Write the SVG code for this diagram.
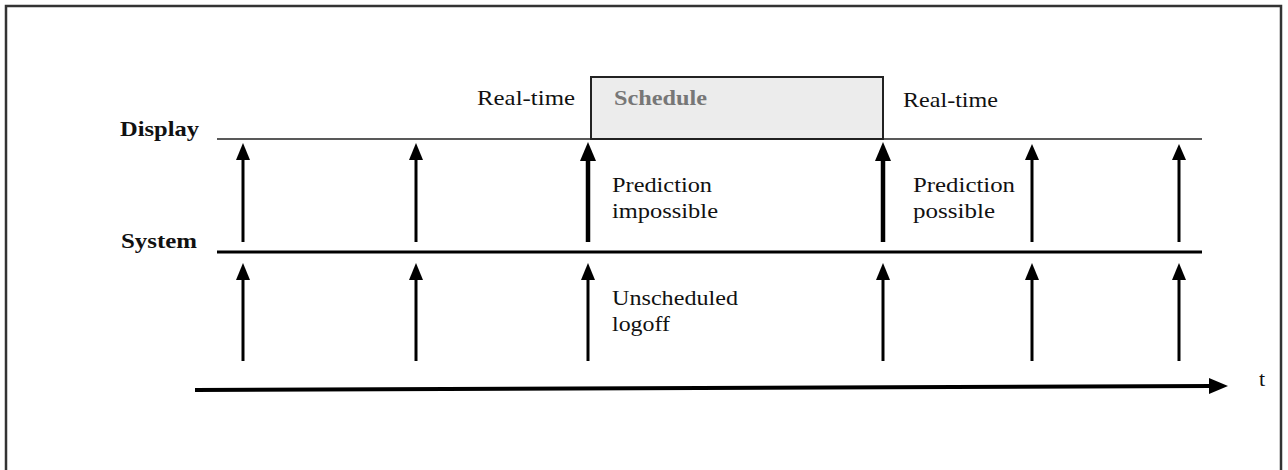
<svg xmlns="http://www.w3.org/2000/svg" width="1288" height="470" viewBox="0 0 1288 470">
<style>
  .bold{font-weight:bold}
  .arr{stroke:#000;stroke-width:3;fill:none}
  .arrT{stroke:#000;stroke-width:4.5;fill:none}
  .head{fill:#000}
</style>
<rect width="1288" height="470" fill="#fff"/>
<g id="frame" stroke="#333" stroke-width="2.5" fill="none">
  <polyline points="6,470 6,6 1281,6 1281,470"/>
</g>
<g font-family="Liberation Serif, DejaVu Serif, serif" font-size="22" fill="#111">
<g id="schedule-box">
  <rect x="591" y="77" width="292" height="62" fill="#ececec" stroke="#222" stroke-width="2"/>
  <text class="bold" x="614" y="105" fill="#777" textLength="93" lengthAdjust="spacingAndGlyphs">Schedule</text>
</g>
<g id="labels">
  <text x="477" y="105" textLength="98" lengthAdjust="spacingAndGlyphs">Real-time</text>
  <text x="903" y="107" textLength="95" lengthAdjust="spacingAndGlyphs">Real-time</text>
  <text class="bold" x="120" y="136" textLength="79" lengthAdjust="spacingAndGlyphs">Display</text>
  <text class="bold" x="121" y="248" textLength="76" lengthAdjust="spacingAndGlyphs">System</text>
  <text x="612" y="192" textLength="100" lengthAdjust="spacingAndGlyphs">Prediction</text>
  <text x="612" y="218" textLength="106" lengthAdjust="spacingAndGlyphs">impossible</text>
  <text x="913" y="192" textLength="102" lengthAdjust="spacingAndGlyphs">Prediction</text>
  <text x="913" y="218" textLength="82" lengthAdjust="spacingAndGlyphs">possible</text>
  <text x="612" y="305" textLength="126" lengthAdjust="spacingAndGlyphs">Unscheduled</text>
  <text x="612" y="331" textLength="58" lengthAdjust="spacingAndGlyphs">logoff</text>
  <text x="1259" y="386">t</text>
</g>
</g>
<g id="lanes">
  <line x1="217" y1="139" x2="1202" y2="139" stroke="#222" stroke-width="1.5"/>
  <line x1="217" y1="252" x2="1202" y2="252" stroke="#000" stroke-width="3"/>
</g>
<g id="connectors">
  <line class="arr" x1="243" y1="242" x2="243" y2="158"/>
  <polygon class="head" points="236,160 243,143 250,160"/>
  <line class="arr" x1="416" y1="242" x2="416" y2="158"/>
  <polygon class="head" points="409,160 416,143 423,160"/>
  <line class="arrT" x1="588" y1="242" x2="588" y2="158"/>
  <polygon class="head" points="580,161 588,142 596,161"/>
  <line class="arrT" x1="883" y1="242" x2="883" y2="158"/>
  <polygon class="head" points="875,161 883,142 891,161"/>
  <line class="arr" x1="1032" y1="242" x2="1032" y2="158"/>
  <polygon class="head" points="1025,160 1032,144 1039,160"/>
  <line class="arr" x1="1179" y1="242" x2="1179" y2="158"/>
  <polygon class="head" points="1172,160 1179,144 1186,160"/>
  <line class="arr" x1="243" y1="361" x2="243" y2="278"/>
  <polygon class="head" points="236,280 243,263 250,280"/>
  <line class="arr" x1="416" y1="361" x2="416" y2="278"/>
  <polygon class="head" points="409,280 416,263 423,280"/>
  <line class="arr" x1="588" y1="361" x2="588" y2="278"/>
  <polygon class="head" points="581,280 588,263 595,280"/>
  <line class="arr" x1="883" y1="361" x2="883" y2="278"/>
  <polygon class="head" points="876,280 883,263 890,280"/>
  <line class="arr" x1="1032" y1="361" x2="1032" y2="278"/>
  <polygon class="head" points="1025,280 1032,263 1039,280"/>
  <line class="arr" x1="1179" y1="361" x2="1179" y2="278"/>
  <polygon class="head" points="1172,280 1179,263 1186,280"/>
  <line x1="195" y1="390" x2="1212" y2="386" stroke="#000" stroke-width="4"/>
  <polygon class="head" points="1209,378 1228,386 1209,394"/>
</g>
</svg>
